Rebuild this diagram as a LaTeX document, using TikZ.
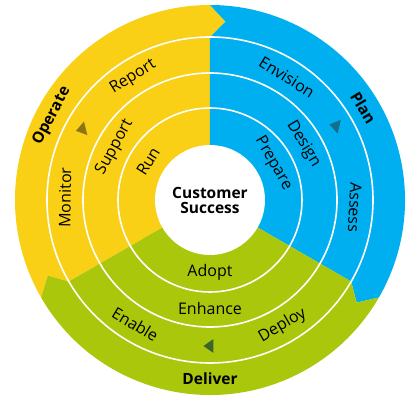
\documentclass[tikz,border=0pt]{standalone}
\usepackage{fontspec}
\setmainfont{Open Sans}
\definecolor{opyellow}{RGB}{249,208,22}
\definecolor{planblue}{RGB}{0,175,239}
\definecolor{delgreen}{RGB}{170,199,12}
\definecolor{opmark}{RGB}{140,115,20}
\definecolor{planmark}{RGB}{20,110,140}
\definecolor{delmark}{RGB}{60,100,45}

\begin{document}
\begin{tikzpicture}[x=1pt,y=1pt,
        ring/.style={white,line width=1.6pt},
        lbl/.style={font=\fontsize{16}{18}\selectfont},
        phase/.style={font=\bfseries\fontsize{15.5}{18}\selectfont}]
        \useasboundingbox (-210,-204) rectangle (208,200);
        % inner sectors
        \fill[opyellow] (0,0) -- (210:163) arc[start angle=210,end angle=90,radius=163] -- cycle;
        \fill[planblue] (0,0) -- (90:163) arc[start angle=90,end angle=-30,radius=163] -- cycle;
        \fill[delgreen] (0,0) -- (-30:163) arc[start angle=-30,end angle=-150,radius=163] -- cycle;
        % outer arrows
        \fill[opyellow] (210:195) -- (205:179) -- (210:163) arc[start angle=210,end angle=90,radius=163]
            -- (85:179) -- (90:195) arc[start angle=90,end angle=210,radius=195] -- cycle;
        \fill[planblue] (90:195) -- (85:179) -- (90:163) arc[start angle=90,end angle=-30,radius=163]
            -- (-35:179) -- (-30:195) arc[start angle=-30,end angle=90,radius=195] -- cycle;
        \fill[delgreen] (-30:195) -- (-35:179) -- (-30:163) arc[start angle=-30,end angle=-150,radius=163]
            -- (-155:179) -- (-150:195) arc[start angle=-150,end angle=-30,radius=195] -- cycle;
        % rings
        \draw[ring] (0,0) circle[radius=163];
        \draw[ring] (0,0) circle[radius=127];
        \draw[ring] (0,0) circle[radius=92];
        \fill[white] (0,0) circle[radius=55];
        % direction marks
        \fill[opmark,shift={(151:146)},rotate=14] (-6.5,0) -- (3.5,7) -- (3.5,-7) -- cycle;
        \fill[planmark,shift={(30.5:146)},rotate=-13] (-6.5,0) -- (3.5,7) -- (3.5,-7) -- cycle;
        \fill[delmark,shift={(270:146)}] (-6.5,0) -- (3.5,7) -- (3.5,-7) -- cycle;
        % labels
        \node[phase,align=center] (success) at (0,0) {Customer\\[-3pt]Success};
        \node[phase,rotate=62] (operate) at (152:179) {Operate};
        \node[phase,rotate=-59] (plan) at (31:179) {Plan};
        \node[phase] (deliver) at (270:179) {Deliver};
        \node[lbl,rotate=32] (report) at (122:145) {Report};
        \node[lbl,rotate=89] (monitor) at (179:145) {Monitor};
        \node[lbl,rotate=-32] (envision) at (58:145) {Envision};
        \node[lbl,rotate=-93] (assess) at (-3:145) {Assess};
        \node[lbl,rotate=-31] (enable) at (239:145) {Enable};
        \node[lbl,rotate=30] (deploy) at (300:145) {Deploy};
        \node[lbl,rotate=61] (support) at (151:109) {Support};
        \node[lbl,rotate=-59] (design) at (31:109) {Design};
        \node[lbl] (enhance) at (270:109) {Enhance};
        \node[lbl,rotate=58] (run) at (148:73) {Run};
        \node[lbl,rotate=-60] (prepare) at (30:73) {Prepare};
        \node[lbl] (adopt) at (270:72) {Adopt};
    \end{tikzpicture}
\end{document}
